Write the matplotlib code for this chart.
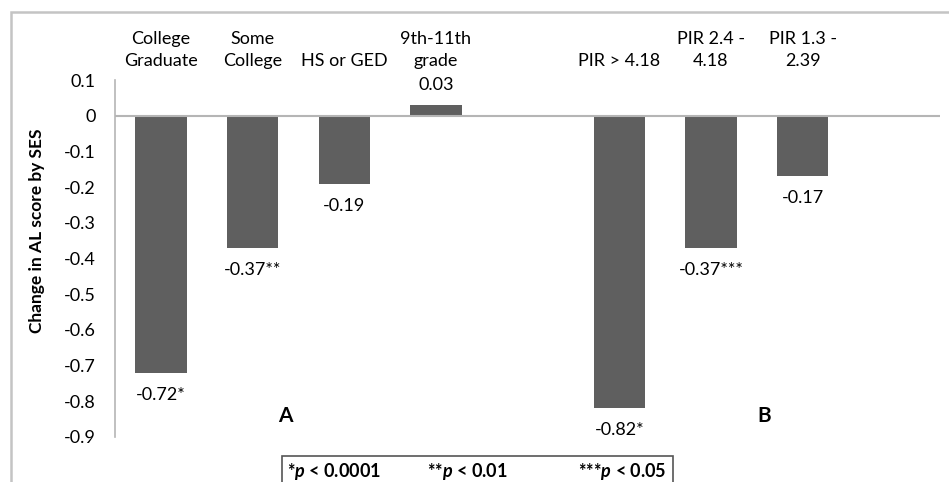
import matplotlib.pyplot as plt
from matplotlib.patches import Rectangle
from matplotlib.transforms import blended_transform_factory

plt.rcParams['font.family'] = ['Lato', 'DejaVu Sans']
plt.rcParams['mathtext.fontset'] = 'custom'
plt.rcParams['mathtext.bfit'] = 'Lato:italic:bold'

# education (A) and poverty-income ratio (B) groups, one empty slot between
categories = ["College\nGraduate", "Some\nCollege", "HS or GED", "9th-11th\ngrade",
              "", "PIR > 4.18", "PIR 2.4 -\n4.18", "PIR 1.3 -\n2.39", ""]
values = [-0.72, -0.37, -0.19, 0.03, None, -0.82, -0.37, -0.17, None]
stars = ["*", "**", "", "", "", "*", "***", "", ""]
yticks = [0.1, 0, -0.1, -0.2, -0.3, -0.4, -0.5, -0.6, -0.7, -0.8, -0.9]

bar_color = "#5f5f5f"
axis_color = "#b5b5b5"
fs = 13

fig = plt.figure(figsize=(9.49, 4.82), dpi=100)
ax = fig.add_axes([0.1212, 0.0934, 0.8695, 0.7406])

xs = [i for i, v in enumerate(values) if v is not None]
vs = [v for v in values if v is not None]
ax.bar(xs, vs, width=0.56, color=bar_color, zorder=2)

ax.set_xlim(-0.5, len(categories) - 0.5)
ax.set_ylim(-0.9, 0.1)
ax.set_yticks(yticks)
ax.set_yticklabels([f"{t:g}" for t in yticks], fontsize=fs)
ax.tick_params(axis="y", length=0, pad=14)
ax.set_xticks([])

for s in ["top", "right", "bottom"]:
    ax.spines[s].set_visible(False)
ax.spines["left"].set_color(axis_color)
ax.spines["left"].set_linewidth(1.2)
ax.axhline(0, color=axis_color, linewidth=1.5, zorder=3)

# category names above the plot area
trans = blended_transform_factory(ax.transData, ax.transAxes)
for i, name in enumerate(categories):
    if name:
        ax.text(i, 1.03, name, transform=trans, ha="center", va="bottom",
                fontsize=fs, linespacing=1.5)

# value labels with significance stars
for i, v in enumerate(values):
    if v is None:
        continue
    off = 20 if v > 0 else -22
    ax.annotate(f"{v:.2f}{stars[i]}", (i, v), xytext=(0, off),
                textcoords="offset pixels", ha="center", va="center", fontsize=fs)

ax.text(1.36, -0.84, "A", ha="center", va="center", fontsize=15, fontweight="bold")
ax.text(6.58, -0.84, "B", ha="center", va="center", fontsize=15, fontweight="bold")

fig.text(37 / 949, 1 - 231 / 482, "Change in AL score by SES", rotation=90,
         ha="center", va="center", fontsize=12.5, fontweight="bold")

# outer frame
fig.patches.append(Rectangle((10.5 / 949, -0.1), 1.2, 1 - 12 / 482 + 0.1,
                             transform=fig.transFigure, fill=False,
                             edgecolor="#c4c4c4", linewidth=1.8))

# significance key
fig.patches.append(Rectangle((282 / 949, -0.05), (673 - 282) / 949, 0.05 + 1 - 455.5 / 482,
                             transform=fig.transFigure, fill=False,
                             edgecolor="#555555", linewidth=1.2))
key_y = 1 - 472 / 482
fig.text(287 / 949, key_y, r"*$\mathbfit{p}$ < 0.0001", ha="left", va="center",
         fontsize=fs, fontweight="bold")
fig.text(427 / 949, key_y, r"**$\mathbfit{p}$ < 0.01", ha="left", va="center",
         fontsize=fs, fontweight="bold")
fig.text(667 / 949, key_y, r"***$\mathbfit{p}$ < 0.05", ha="right", va="center",
         fontsize=fs, fontweight="bold")

fig.savefig("out.png", dpi=100)
